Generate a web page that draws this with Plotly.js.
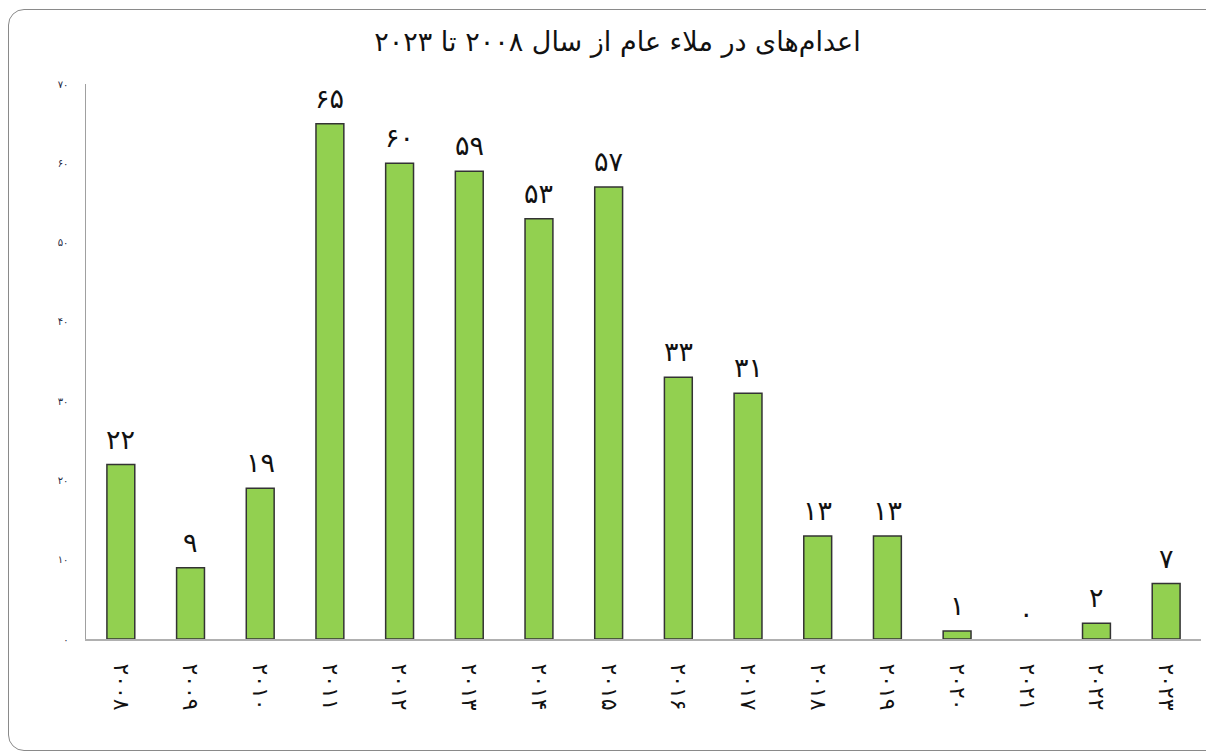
<!DOCTYPE html>
<html>
<head>
<meta charset="utf-8">
<script src="https://cdn.plot.ly/plotly-3.0.1.min.js"></script>
<style>
  html, body { margin: 0; padding: 0; width: 1206px; height: 756px; overflow: hidden; background: #fff; }
  #frame { position: absolute; left: 8px; top: 9px; width: 1300px; height: 742px; border: 1.5px solid #8a8a8a; border-radius: 16px; box-sizing: border-box; }
  #chart { position: absolute; left: 0; top: 0; width: 1206px; height: 756px; }
</style>
</head>
<body>
<div id="frame"></div>
<div id="chart"></div>
<script>
const years = ['2008','2009','2010','2011','2012','2013','2014','2015','2016','2017','2018','2019','2020','2021','2022','2023'];
const executions = [22, 9, 19, 65, 60, 59, 53, 57, 33, 31, 13, 13, 1, 0, 2, 7];
const yTickVals = [0, 10, 20, 30, 40, 50, 60, 70];
const titleText = 'اعدام‌های در ملاء عام از سال ۲۰۰۸ تا ۲۰۲۳';

const fa = s => String(s).replace(/[0-9]/g, d => '۰۱۲۳۴۵۶۷۸۹'[+d]);
const yearLabels = years.map(fa);
const yTickText = yTickVals.map(fa);

const trace = {
  type: 'bar',
  x: yearLabels,
  y: executions,
  marker: { color: '#92D050', line: { color: '#333333', width: executions.map(v => v > 0 ? 1.5 : 0) } },
  hoverinfo: 'x+y'
};

const annotations = executions.map((v, i) => ({
  x: yearLabels[i], y: v, xref: 'x', yref: 'y',
  text: fa(v), showarrow: false, yanchor: 'bottom', yshift: 8,
  font: { family: 'DejaVu Sans, sans-serif', size: 27, color: '#111' }
}));

const layout = {
  width: 1206, height: 756,
  margin: { l: 86, r: 5, t: 84, b: 117 },
  paper_bgcolor: 'rgba(0,0,0,0)',
  plot_bgcolor: 'rgba(0,0,0,0)',
  bargap: 0.6,
  showlegend: false,
  title: { text: titleText, x: 0.512, xanchor: 'center', y: 0.945, yanchor: 'middle',
           font: { family: 'DejaVu Sans, sans-serif', size: 27, color: '#111' } },
  xaxis: {
    type: 'category', tickangle: 90,
    showline: true, linecolor: '#b0b0b0', linewidth: 2,
    ticks: 'outside', ticklen: 18, tickcolor: 'rgba(0,0,0,0)',
    showgrid: false, zeroline: false,
    tickfont: { family: 'DejaVu Sans, sans-serif', size: 22, color: '#111' }
  },
  yaxis: {
    range: [0, 70], tickvals: yTickVals, ticktext: yTickText,
    showline: true, linecolor: '#a0a0a0', linewidth: 1.5,
    ticks: 'outside', ticklen: 14, tickcolor: 'rgba(0,0,0,0)',
    showgrid: false, zeroline: false,
    tickfont: { family: 'DejaVu Sans, sans-serif', size: 10, color: '#1f2a44' }
  },
  annotations: annotations
};

Plotly.newPlot('chart', [trace], layout, { displayModeBar: false, staticPlot: true });
</script>
</body>
</html>
